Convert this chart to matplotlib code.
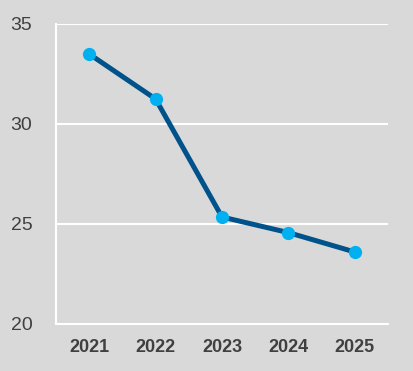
import matplotlib.pyplot as plt

years = ["2021", "2022", "2023", "2024", "2025"]
values = [33.5, 31.25, 25.35, 24.57, 23.6]
yticks = [20, 25, 30, 35]

plt.rcParams['font.family'] = ['Liberation Sans', 'DejaVu Sans']

fig = plt.figure(figsize=(4.14, 3.71), dpi=100)
fig.patch.set_facecolor("#d9d9d9")
ax = fig.add_axes([56/414, 1-324/371, 332/414, 300/371])
ax.set_facecolor("#d9d9d9")

x = range(len(years))
ax.plot(x, values, color="#00538a", lw=3.6, marker="o", markersize=8.5,
        markerfacecolor="#00b0f0", markeredgecolor="#00b0f0", zorder=3,
        solid_capstyle="round")

ax.set_xlim(-0.5, len(years) - 0.5)
ax.set_ylim(20, 35)
ax.set_yticks(yticks)
ax.set_xticks(list(x))
ax.set_xticklabels(years, fontweight="bold")
ax.yaxis.grid(True, color="white", lw=1.5)
ax.set_axisbelow(True)

for s in ["top", "right"]:
    ax.spines[s].set_visible(False)
for s in ["left", "bottom"]:
    ax.spines[s].set_color("white")
    ax.spines[s].set_linewidth(1.5)

ax.tick_params(axis="y", length=0, pad=17, labelsize=14, labelcolor="#404040")
ax.tick_params(axis="x", length=0, pad=11, labelsize=13, labelcolor="#404040")

fig.savefig("out.png", dpi=100, facecolor=fig.get_facecolor())
